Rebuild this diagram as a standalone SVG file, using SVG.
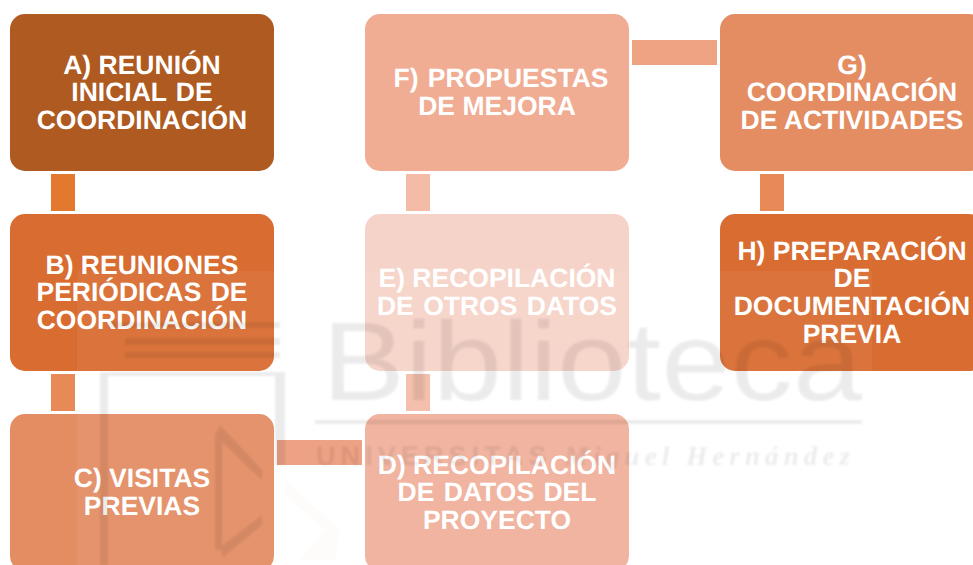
<svg xmlns="http://www.w3.org/2000/svg" width="973" height="565" viewBox="0 0 973 565">
<style>
.n{stroke:none}
text{font-family:"Liberation Sans",Arial,sans-serif;font-weight:700;font-size:26.5px;fill:#fff;text-anchor:middle;text-rendering:geometricPrecision}
.w{word-spacing:2px}
.wm text{fill:#000;text-anchor:start}
</style>
<defs><filter id="soft" x="-5%" y="-5%" width="110%" height="110%"><feGaussianBlur stdDeviation="0.9"/></filter></defs>
<rect width="973" height="565" fill="#fff"/>
<g id="connectors">
<rect x="51" y="174" width="24" height="37" fill="#E2792F"/>
<rect x="51" y="374" width="24" height="37" fill="#E88A58"/>
<rect x="277" y="440" width="85" height="25" fill="#ED9D7E"/>
<rect x="406" y="374" width="24" height="37" fill="#F4BBA7"/>
<rect x="406" y="174" width="24" height="37" fill="#F4BBA7"/>
<rect x="632" y="40" width="85" height="25" fill="#EEA383"/>
<rect x="760" y="174" width="24" height="37" fill="#E88A58"/>
</g>
<g id="node-a"><rect class="n" x="10" y="14" width="264" height="157" rx="15" fill="#AE5A21"/><text x="142" y="74">A) REUNIÓN</text><text x="142" y="101" class="w">INICIAL DE</text><text x="142" y="129">COORDINACIÓN</text></g>
<g id="node-b"><rect class="n" x="10" y="214" width="264" height="157" rx="15" fill="#D96C30"/><text x="142" y="274">B) REUNIONES</text><text x="142" y="301" class="w">PERIÓDICAS DE</text><text x="142" y="329">COORDINACIÓN</text></g>
<g id="node-c"><rect class="n" x="10" y="414" width="264" height="157" rx="15" fill="#E48D63"/><text x="142" y="487">C) VISITAS</text><text x="142" y="515">PREVIAS</text></g>
<g id="node-d"><rect class="n" x="365" y="414" width="264" height="157" rx="15" fill="#F0B09B"/><text x="497" y="474">D) RECOPILACIÓN</text><text x="497" y="501" class="w">DE DATOS DEL</text><text x="497" y="529">PROYECTO</text></g>
<g id="node-e"><rect class="n" x="365" y="214" width="264" height="157" rx="15" fill="#F6D3C8"/><text x="497" y="287">E) RECOPILACIÓN</text><text x="497" y="315" class="w">DE OTROS DATOS</text></g>
<g id="node-f"><rect class="n" x="365" y="14" width="264" height="157" rx="15" fill="#F0AD94"/><text x="501" y="87" class="w">F) PROPUESTAS</text><text x="497" y="115">DE MEJORA</text></g>
<g id="node-g"><rect class="n" x="720" y="14" width="264" height="157" rx="15" fill="#E48D63"/><text x="852" y="74">G)</text><text x="852" y="101">COORDINACIÓN</text><text x="852" y="129">DE ACTIVIDADES</text></g>
<g id="node-h"><rect class="n" x="720" y="214" width="264" height="157" rx="15" fill="#D96C30"/><text x="852" y="260">H) PREPARACIÓN</text><text x="852" y="287">DE</text><text x="852" y="315">DOCUMENTACIÓN</text><text x="852" y="343">PREVIA</text></g>
<g id="watermark">
<rect x="77" y="271" width="795" height="294" fill="#fff" opacity="0.06"/>
<g class="wm" opacity="0.075" filter="url(#soft)">
<text x="322" y="400" style="font-size:112px;font-weight:400" textLength="540" lengthAdjust="spacingAndGlyphs">Biblioteca</text>
<rect x="315" y="420" width="547" height="4"/>
<text x="316" y="465" style="font-size:27px" textLength="534" lengthAdjust="spacing">UNIVERSITAS <tspan style="font-family:'Liberation Serif',serif;font-style:italic">Miguel Hernández</tspan></text>
<path d="M100 372H285V465H275V376H108V565H100Z"/>
<path d="M110 322H280V328H110ZM125 338H280V345H125ZM125 352H280V358H125Z"/>
<path d="M220 425L262 470L262 480L215 435ZM215 435H222V550H215ZM262 525L222 558L222 546L262 515Z"/>
</g>
<g opacity="0.015" fill="#664400"><path d="M285 480L340 530L335 560L300 560L325 530L285 495Z"/></g>
</g>
</svg>
